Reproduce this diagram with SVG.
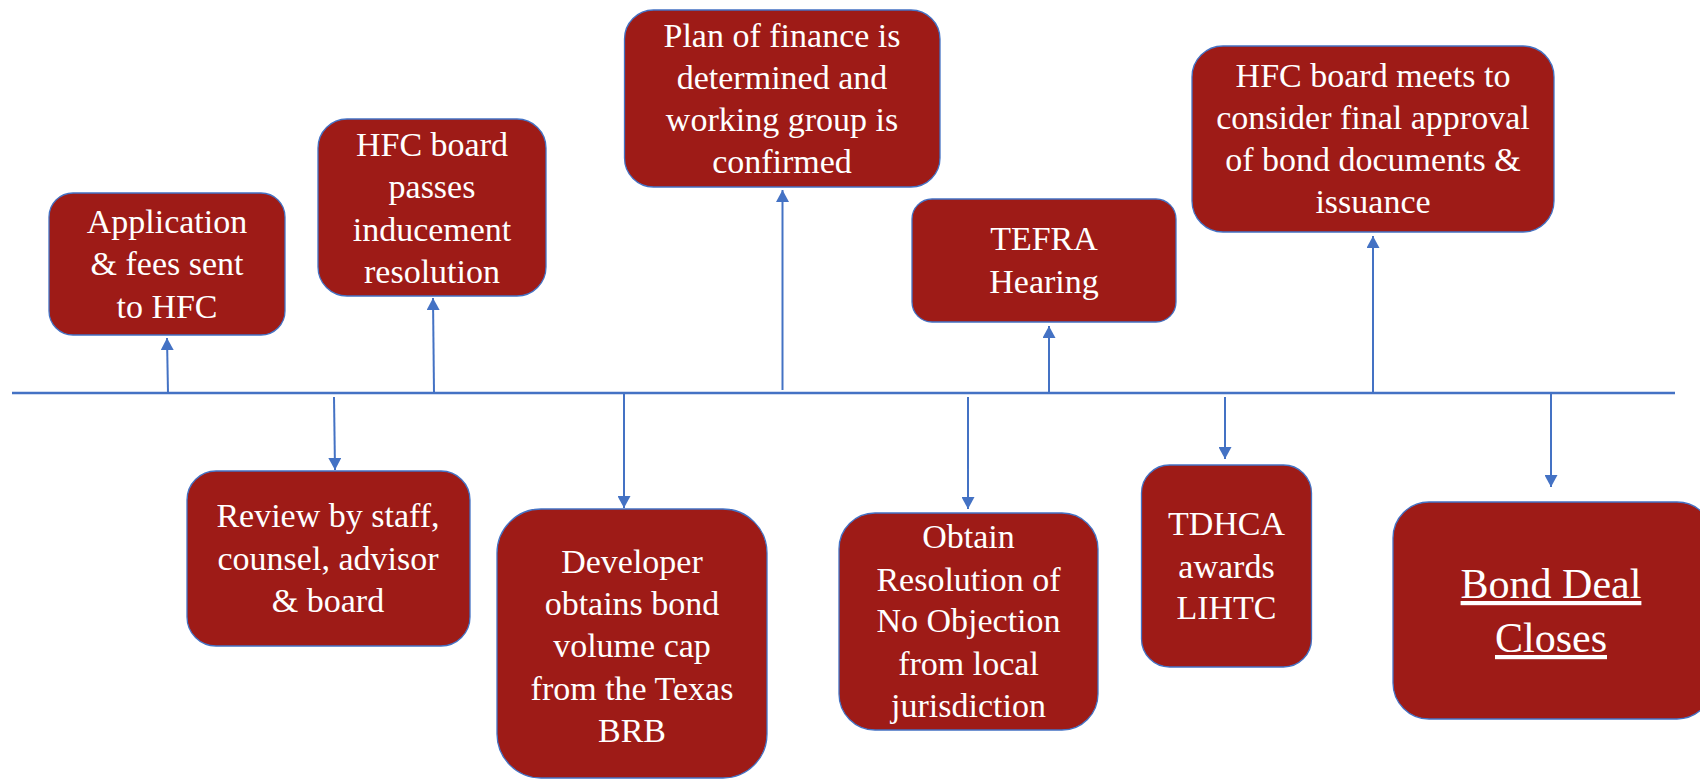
<svg xmlns="http://www.w3.org/2000/svg" width="1700" height="780" viewBox="0 0 1700 780">
<style>
.box{fill:#9E1B17;stroke:#4472C4;stroke-width:1.3}
.t{font-family:"Liberation Serif","Times New Roman",serif;font-size:34px;fill:#FFFFFF;text-anchor:middle}
.big{font-size:42px;text-decoration:underline}
.c{stroke:#4472C4;stroke-width:2;fill:none}
.axis{stroke:#4472C4;stroke-width:2.5;fill:none}
</style>
<defs>
<marker id="ah" markerUnits="userSpaceOnUse" markerWidth="13" markerHeight="13" refX="12" refY="6.5" orient="auto">
<path d="M0,0 L12,6.5 L0,13 z" fill="#4472C4"/>
</marker>
</defs>
<rect width="1700" height="780" fill="#FFFFFF"/>
<g id="connectors">
<line class="axis" x1="12" y1="393" x2="1675" y2="393"/>
<line class="c" x1="168" y1="393" x2="167" y2="338" marker-end="url(#ah)"/>
<line class="c" x1="434" y1="393" x2="433" y2="298" marker-end="url(#ah)"/>
<line class="c" x1="782.5" y1="390" x2="782.5" y2="190" marker-end="url(#ah)"/>
<line class="c" x1="1049" y1="393" x2="1049" y2="326" marker-end="url(#ah)"/>
<line class="c" x1="1373" y1="393" x2="1373" y2="236" marker-end="url(#ah)"/>
<line class="c" x1="334" y1="397" x2="335" y2="470" marker-end="url(#ah)"/>
<line class="c" x1="624" y1="393" x2="624" y2="508" marker-end="url(#ah)"/>
<line class="c" x1="968" y1="397" x2="968" y2="509" marker-end="url(#ah)"/>
<line class="c" x1="1225" y1="397" x2="1225" y2="459" marker-end="url(#ah)"/>
<line class="c" x1="1551" y1="393" x2="1551" y2="487" marker-end="url(#ah)"/>
</g>
<g id="n1">
<rect class="box" x="49" y="193" width="236" height="142" rx="24"/>
<text class="t" x="167" y="233">Application</text>
<text class="t" x="167" y="275">&amp; fees sent</text>
<text class="t" x="167" y="318">to HFC</text>
</g>
<g id="n2">
<rect class="box" x="318" y="119" width="228" height="177" rx="29"/>
<text class="t" x="432" y="156">HFC board</text>
<text class="t" x="432" y="198">passes</text>
<text class="t" x="432" y="241">inducement</text>
<text class="t" x="432" y="283">resolution</text>
</g>
<g id="n3">
<rect class="box" x="624.5" y="10" width="315.5" height="177" rx="29"/>
<text class="t" x="782" y="47">Plan of  finance is</text>
<text class="t" x="782" y="89">determined and</text>
<text class="t" x="782" y="131">working group is</text>
<text class="t" x="782" y="173">confirmed</text>
</g>
<g id="n4">
<rect class="box" x="912" y="199" width="264" height="123" rx="20"/>
<text class="t" x="1044" y="250">TEFRA</text>
<text class="t" x="1044" y="293">Hearing</text>
</g>
<g id="n5">
<rect class="box" x="1192" y="46" width="362" height="186" rx="31"/>
<text class="t" x="1373" y="87">HFC board meets to</text>
<text class="t" x="1373" y="129">consider final approval</text>
<text class="t" x="1373" y="171">of  bond documents &amp;</text>
<text class="t" x="1373" y="213">issuance</text>
</g>
<g id="n6">
<rect class="box" x="187" y="471" width="283" height="175" rx="29"/>
<text class="t" x="328" y="527">Review by staff,</text>
<text class="t" x="328" y="570">counsel, advisor</text>
<text class="t" x="328" y="612">&amp; board</text>
</g>
<g id="n7">
<rect class="box" x="497" y="509" width="270" height="269" rx="44"/>
<text class="t" x="632" y="573">Developer</text>
<text class="t" x="632" y="615">obtains bond</text>
<text class="t" x="632" y="657">volume cap</text>
<text class="t" x="632" y="700">from the Texas</text>
<text class="t" x="632" y="742">BRB</text>
</g>
<g id="n8">
<rect class="box" x="839" y="513" width="259" height="217" rx="36"/>
<text class="t" x="968.5" y="548">Obtain</text>
<text class="t" x="968.5" y="591">Resolution of</text>
<text class="t" x="968.5" y="632">No Objection</text>
<text class="t" x="968.5" y="675">from local</text>
<text class="t" x="968.5" y="717">jurisdiction</text>
</g>
<g id="n9">
<rect class="box" x="1141.5" y="465" width="170" height="202" rx="28"/>
<text class="t" x="1226.5" y="535">TDHCA</text>
<text class="t" x="1226.5" y="578">awards</text>
<text class="t" x="1226.5" y="619">LIHTC</text>
</g>
<g id="n10">
<rect class="box" x="1393" y="502" width="320" height="217" rx="36"/>
<text class="t big" x="1551" y="598">Bond Deal</text>
<text class="t big" x="1551" y="652">Closes</text>
</g>
</svg>
